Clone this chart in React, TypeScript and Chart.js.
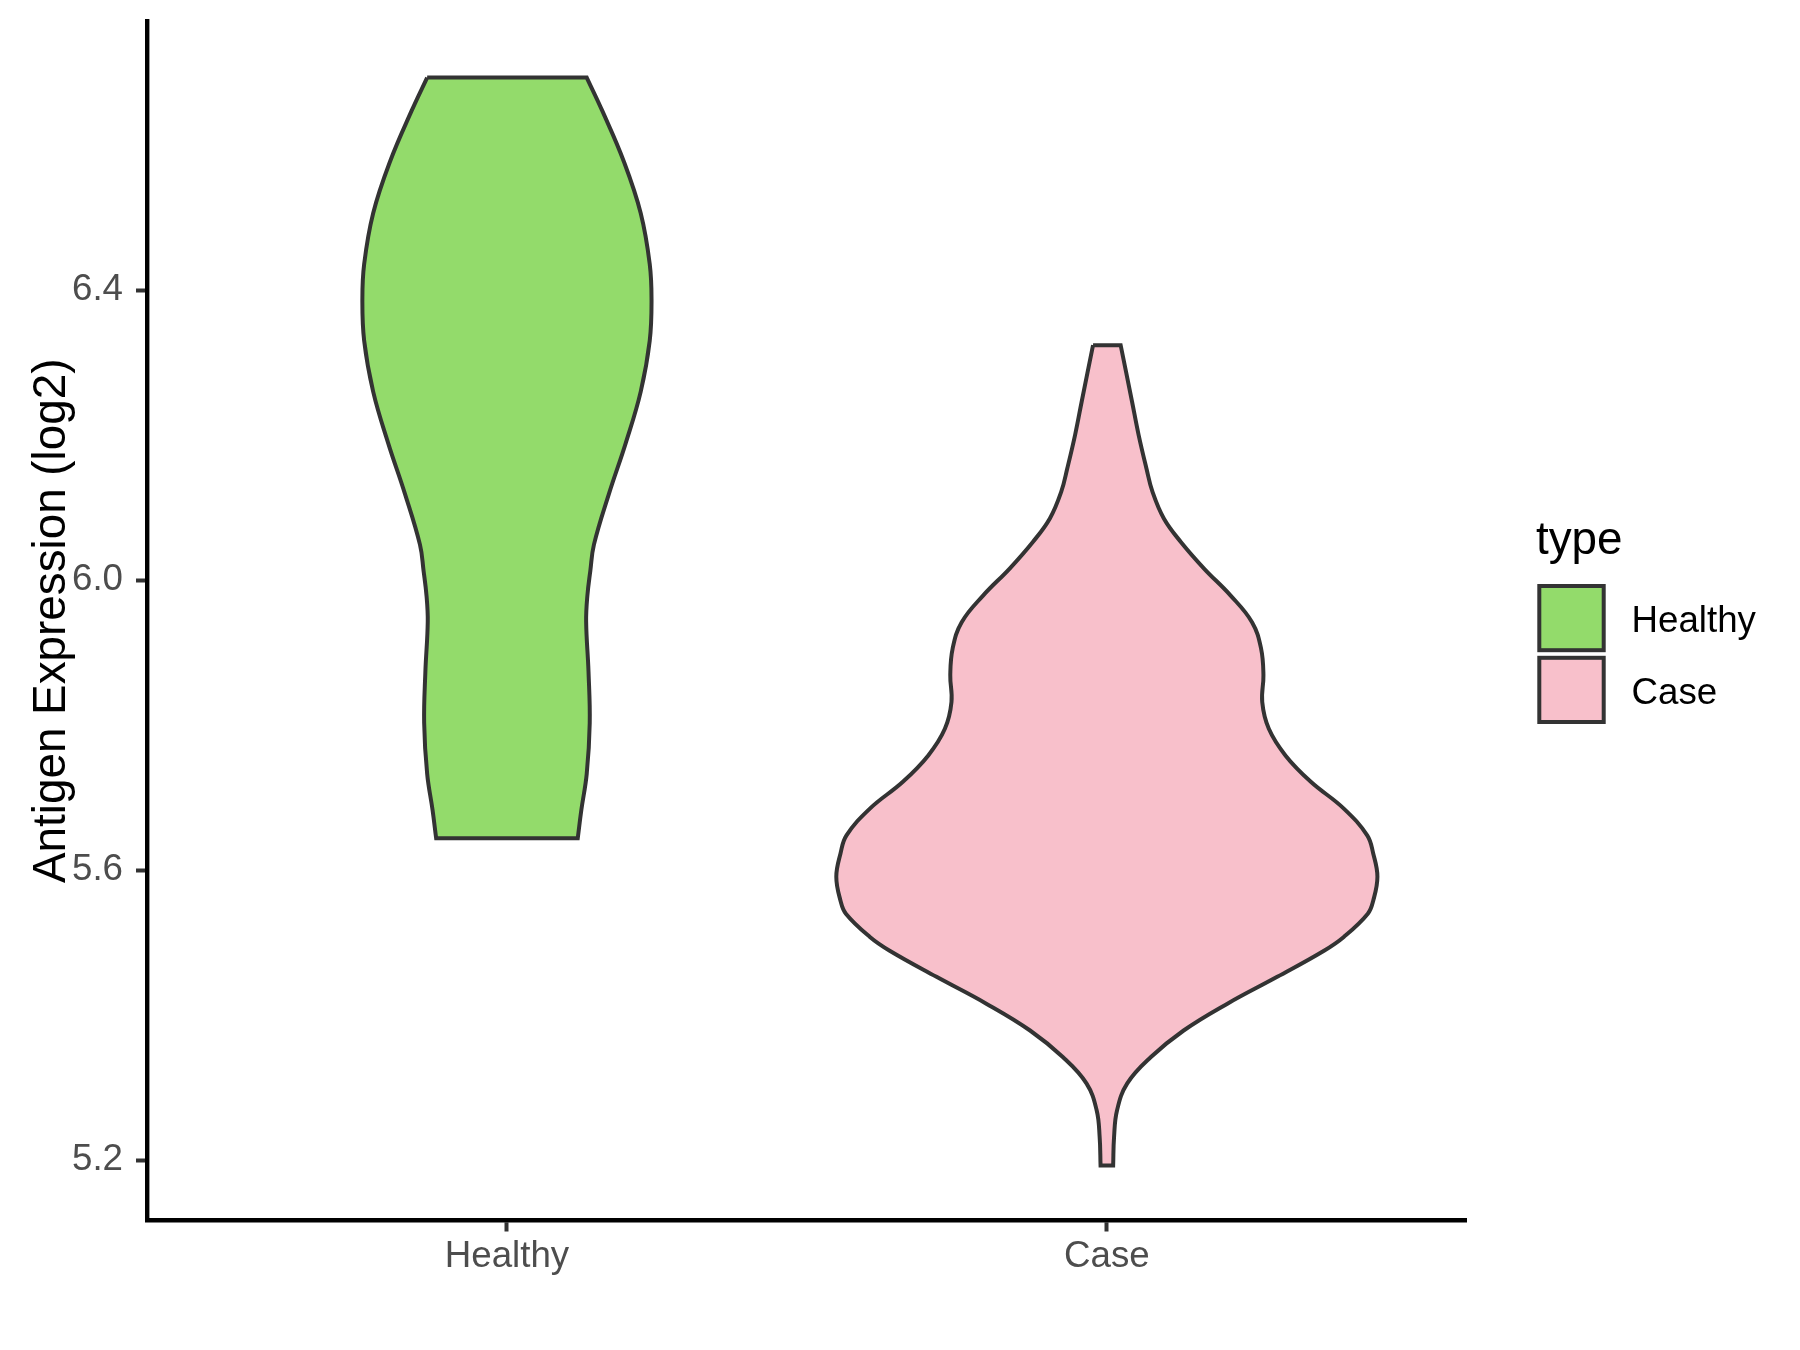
import React, { useEffect, useRef } from 'react';
import { Chart, registerables } from 'chart.js';

Chart.register(...registerables);

// ---------- data ----------
const categories = ['Healthy', 'Case'];
const fillColors = ['#93DB6B', '#F8C0CB'];
const outlineColor = '#333333';
const yTickValues = [5.2, 5.6, 6.0, 6.4];
const yTitle = 'Antigen Expression (log2)';
const legendTitle = 'type';

// violin outlines: expression value and half-width (in category units)
const healthyValues = [6.693, 6.647, 6.577, 6.506, 6.436, 6.387, 6.330, 6.260, 6.189, 6.119, 6.049, 6.013, 5.978, 5.943, 5.873, 5.803, 5.733, 5.683, 5.644];
const healthyHalfWidths = [0.133, 0.159, 0.195, 0.223, 0.238, 0.241, 0.238, 0.223, 0.198, 0.170, 0.145, 0.139, 0.134, 0.132, 0.136, 0.138, 0.133, 0.124, 0.118];

const caseValues = [6.324, 6.246, 6.200, 6.154, 6.122, 6.085, 6.053, 6.016, 5.979, 5.942, 5.906, 5.869, 5.832, 5.795, 5.758, 5.722, 5.685, 5.648, 5.623, 5.591, 5.558, 5.540, 5.508, 5.489, 5.453, 5.416, 5.379, 5.342, 5.306, 5.269, 5.232, 5.193];
const caseHalfWidths = [0.023, 0.042, 0.053, 0.066, 0.076, 0.095, 0.123, 0.162, 0.206, 0.242, 0.257, 0.261, 0.259, 0.270, 0.298, 0.340, 0.395, 0.434, 0.444, 0.451, 0.444, 0.435, 0.395, 0.362, 0.284, 0.201, 0.128, 0.073, 0.034, 0.017, 0.012, 0.0105];

const violinValues = [healthyValues, caseValues];
const violinHalfWidths = [healthyHalfWidths, caseHalfWidths];

const yMin = 5.117;
const yMax = 6.771;
const xMin = 0.4;
const xMax = 2.6;

const FONT = "'Liberation Sans', Arial, Helvetica, sans-serif";

function outline(center: number, values: number[], hws: number[]) {
  const left = values.map((v, i) => ({ x: center - hws[i], y: v }));
  const right = values.map((v, i) => ({ x: center + hws[i], y: v })).reverse();
  // duplicated corner points keep the flat ends sharp when the curve is smoothed
  return [left[0], ...left, left[left.length - 1], right[0], ...right, right[right.length - 1], left[0]];
}

const legendPlugin = {
  id: 'violinLegend',
  afterDraw(chart: any) {
    const ctx = chart.ctx;
    ctx.save();
    ctx.fillStyle = '#000000';
    ctx.textAlign = 'left';
    ctx.textBaseline = 'alphabetic';
    ctx.font = `45.8px ${FONT}`;
    ctx.fillText(legendTitle, 1536, 553.5);
    ctx.font = `36.7px ${FONT}`;
    categories.forEach((cat, i) => {
      const top = 586 + i * 71.8;
      ctx.fillStyle = fillColors[i];
      ctx.fillRect(1539.3, top, 64.4, 64.2);
      ctx.strokeStyle = outlineColor;
      ctx.lineWidth = 4;
      ctx.strokeRect(1539.3, top, 64.4, 64.2);
      ctx.fillStyle = '#000000';
      ctx.fillText(cat, 1631.5, top + 45.7);
    });
    ctx.restore();
  },
};

export default function App() {
  const canvasRef = useRef<HTMLCanvasElement | null>(null);

  useEffect(() => {
    const canvas = canvasRef.current;
    if (!canvas) return;
    const datasets = categories.map((cat, i) => ({
      label: cat,
      data: outline(i + 1, violinValues[i], violinHalfWidths[i]),
      borderColor: outlineColor,
      backgroundColor: fillColors[i],
      borderWidth: 4,
      fill: 'shape',
      tension: 0.4,
      pointRadius: 0,
      pointHoverRadius: 0,
      showLine: true,
    }));

    const chart = new Chart(canvas, {
      type: 'line',
      data: { datasets: datasets as any },
      plugins: [legendPlugin],
      options: {
        responsive: false,
        animation: false,
        devicePixelRatio: 1,
        events: [],
        layout: { padding: { top: 21, right: 333.2, bottom: 0, left: 0 } },
        plugins: {
          legend: { display: false },
          tooltip: { enabled: false },
          title: { display: false },
        },
        scales: {
          x: {
            type: 'linear',
            min: xMin,
            max: xMax,
            afterBuildTicks: (scale: any) => {
              scale.ticks = categories.map((_, i) => ({ value: i + 1 }));
            },
            afterFit: (scale: any) => {
              scale.height = 129.5;
              scale.paddingLeft = 0;
              scale.paddingRight = 0;
            },
            ticks: {
              callback: (v: any) => categories[Math.round(Number(v)) - 1] ?? '',
              color: '#4D4D4D',
              font: { family: FONT, size: 36.7 },
              padding: 3,
              maxRotation: 0,
              autoSkip: false,
            },
            grid: {
              drawOnChartArea: false,
              drawTicks: true,
              tickLength: 11,
              tickWidth: 4,
              tickColor: '#333333',
            },
            border: { display: true, color: '#000000', width: 4.4 },
          },
          y: {
            type: 'linear',
            min: yMin,
            max: yMax,
            afterBuildTicks: (scale: any) => {
              scale.ticks = yTickValues.map((v) => ({ value: v }));
            },
            afterFit: (scale: any) => {
              scale.width = 147;
              scale.paddingTop = 0;
              scale.paddingBottom = 0;
            },
            ticks: {
              callback: (v: any) => Number(v).toFixed(1),
              color: '#4D4D4D',
              font: { family: FONT, size: 36.7 },
              padding: 13,
              autoSkip: false,
            },
            grid: {
              drawOnChartArea: false,
              drawTicks: true,
              tickLength: 11,
              tickWidth: 4,
              tickColor: '#333333',
            },
            border: { display: true, color: '#000000', width: 4.4 },
            title: {
              display: true,
              text: yTitle,
              color: '#000000',
              font: { family: FONT, size: 45.8 },
              padding: { top: 25, bottom: 0 },
            },
          },
        },
      },
    } as any);

    return () => {
      chart.destroy();
    };
  }, []);

  return (
    <div style={{ position: 'absolute', left: 0, top: 0, width: 1800, height: 1350, background: '#ffffff' }}>
      <canvas ref={canvasRef} width={1800} height={1350} style={{ display: 'block', width: 1800, height: 1350 }} />
    </div>
  );
}
